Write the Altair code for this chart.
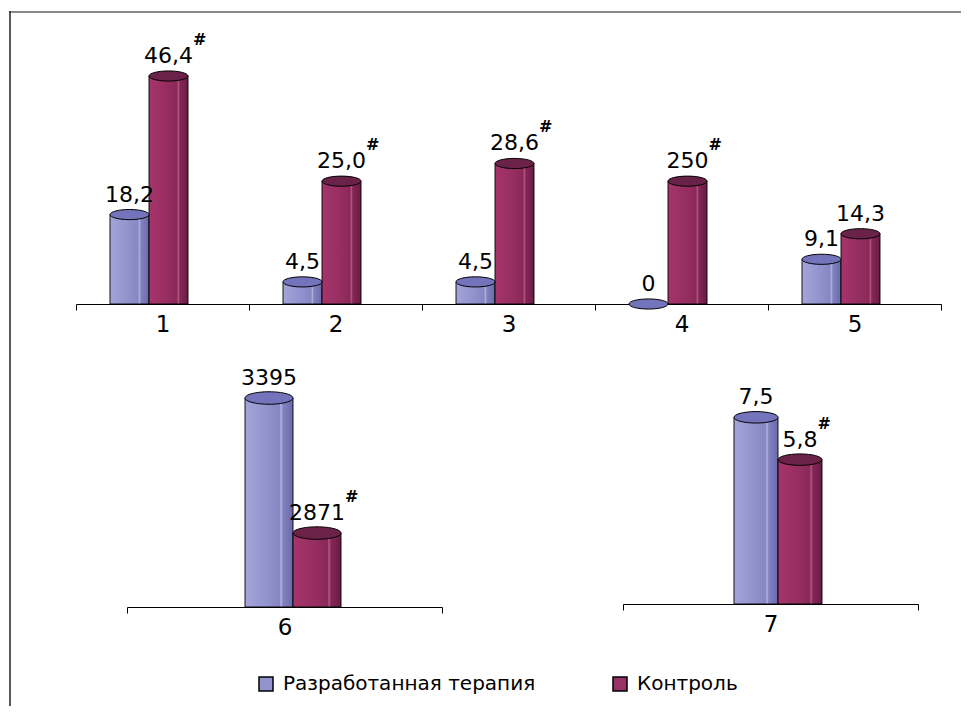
import json
import altair as alt
import pandas as pd

# ---------------- data ----------------
series = ["Разработанная терапия", "Контроль"]

cats_top = ["1", "2", "3", "4", "5"]
top_therapy = [18.2, 4.5, 4.5, 0.0, 9.1]
top_control = [46.4, 25.0, 28.6, 25.0, 14.3]          # bar heights as drawn
top_therapy_lbl = ["18,2", "4,5", "4,5", "0", "9,1"]
top_control_lbl = ["46,4", "25,0", "28,6", "250", "14,3"]
top_therapy_sup = ["", "", "", "", ""]
top_control_sup = ["#", "#", "#", "#", ""]

cats_6 = ["6"]
p6_values = [3395, 2871]
p6_labels = ["3395", "2871"]
p6_sup = ["", "#"]

cats_7 = ["7"]
p7_values = [7.5, 5.8]
p7_labels = ["7,5", "5,8"]
p7_sup = ["", "#"]

# ---------------- styling ----------------
FONT = "DejaVu Sans"
VAL_FS = 22
CAT_FS = 23
SUP_FS = 16
LEG_FS = 20

BLUE_SW = "#9393cc"
RED_SW = "#993366"
CAP_BLUE = "#7474bc"
CAP_RED = "#6b2249"


def grad(stops):
    return alt.LinearGradient(
        gradient="linear", x1=0, x2=1, y1=0, y2=0,
        stops=[alt.GradientStop(offset=o, color=c) for o, c in stops])


GRAD_BLUE = grad([(0, "#a5a5da"), (0.5, "#9090cc"), (0.72, "#8686c4"), (0.75, "#b4b4e2"),
                  (0.79, "#8282c1"), (0.88, "#7878b8"), (1, "#6a6aac")])
GRAD_RED = grad([(0, "#a5356b"), (0.5, "#952d60"), (0.72, "#8b2858"), (0.75, "#b25c88"),
                 (0.79, "#852655"), (0.88, "#7a224e"), (1, "#691c42")])

CAP = "M-1,0 A1,0.26 0 1,1 1,0 A1,0.26 0 1,1 -1,0 Z"

# approx DejaVu Sans advance widths (em)
CW = {",": 0.318}


def text_w(s, fs):
    return sum(CW.get(ch, 0.636) for ch in s) * fs


def make_df(cats, vals_by_series, lbls_by_series, sups_by_series):
    rows = []
    for si, s in enumerate(series):
        for c, v, l, sp in zip(cats, vals_by_series[si], lbls_by_series[si], sups_by_series[si]):
            rows.append({"cat": c, "series": s, "value": v, "label": l, "sup": sp})
    return pd.DataFrame(rows)


def panel(df, cats, width, height, ydomain, off_left, bar_w, extra=None):
    x = alt.X("cat:N", sort=cats,
              scale=alt.Scale(domain=cats, paddingInner=0, paddingOuter=0),
              axis=alt.Axis(title=None, labelAngle=0, tickBand="extent", domainColor="black",
                            tickColor="black", tickSize=6, labelFontSize=CAT_FS,
                            labelColor="black", labelPadding=3, grid=False,
                            domainWidth=1, tickWidth=1, labelFont=FONT))
    xo = alt.XOffset("series:N", sort=series,
                     scale=alt.Scale(domain=series, paddingInner=0, paddingOuter=0,
                                     range=[off_left, off_left + 2 * bar_w]))
    y = alt.Y("value:Q", scale=alt.Scale(domain=ydomain, zero=False, nice=False), axis=None)
    base = alt.Chart(df).encode(x=x, xOffset=xo)
    layers = []
    for s, g in zip(series, [GRAD_BLUE, GRAD_RED]):
        layers.append(base.transform_filter(alt.datum.series == s)
                      .mark_bar(color=g, stroke="black", strokeWidth=1, strokeOpacity=0.9)
                      .encode(y=y, y2=alt.datum(ydomain[0])))
    for s, cc in zip(series, [CAP_BLUE, CAP_RED]):
        layers.append(base.transform_filter(alt.datum.series == s)
                      .mark_point(shape=CAP, size=bar_w * bar_w, filled=True, fill=cc,
                                  stroke="black", strokeWidth=1, opacity=1)
                      .encode(y=y))
    layers.append(base.mark_text(dy=-13, fontSize=VAL_FS, baseline="alphabetic",
                                 align="center", color="black", font=FONT)
                  .encode(y=y, text="label:N"))
    # superscripts, grouped by label width
    sup_rows = df[df["sup"] != ""]
    groups = {}
    for lbl in sup_rows["label"]:
        dx = round(text_w(lbl, VAL_FS) / 2, 1)
        groups.setdefault(dx, []).append(lbl)
    for dx, lbls in groups.items():
        expr = "datum.sup == '#' && indexof(%s, datum.label) >= 0" % json.dumps(lbls)
        layers.append(base.transform_filter(expr)
                      .mark_text(dx=dx, dy=-31, align="left", baseline="alphabetic",
                                 fontSize=SUP_FS, fontWeight="bold", color="black", font=FONT)
                      .encode(y=y, text="sup:N"))
    if extra:
        layers.extend(extra)
    return alt.layer(*layers).properties(width=width, height=height)


one = pd.DataFrame({"a": [0]})
top_line = alt.Chart(one).mark_rule(color="#8a8a8a", strokeWidth=2).encode(
    x=alt.value(-67), x2=alt.value(885), y=alt.value(-19))
left_line = alt.Chart(one).mark_rule(color="#222222", strokeWidth=1.5).encode(
    x=alt.value(-66), y=alt.value(-20), y2=alt.value(675))

# legend (drawn inside the top panel, below everything)
leg_df = pd.DataFrame({"series": series})
LEG_X = [190, 544]
LEG_Y = 653
legend_layers = []
for s, lx, col in zip(series, LEG_X, [BLUE_SW, RED_SW]):
    lb = alt.Chart(leg_df).transform_filter(alt.datum.series == s)
    legend_layers.append(lb.mark_point(shape="square", size=196, filled=True, fill=col,
                                       stroke="black", strokeWidth=1.5, opacity=1)
                         .encode(x=alt.value(lx), y=alt.value(LEG_Y)))
    legend_layers.append(lb.mark_text(align="left", dx=17, baseline="middle",
                                      fontSize=LEG_FS, color="black", font=FONT)
                         .encode(x=alt.value(lx), y=alt.value(LEG_Y), text="series:N"))

df_top = make_df(cats_top, [top_therapy, top_control], [top_therapy_lbl, top_control_lbl],
                 [top_therapy_sup, top_control_sup])
df6 = make_df(cats_6, [[p6_values[0]], [p6_values[1]]], [[p6_labels[0]], [p6_labels[1]]],
              [[p6_sup[0]], [p6_sup[1]]])
df7 = make_df(cats_7, [[p7_values[0]], [p7_values[1]]], [[p7_labels[0]], [p7_labels[1]]],
              [[p7_sup[0]], [p7_sup[1]]])

top = panel(df_top, cats_top, 865, 273, [0, 55.56], 34, 39,
            extra=[top_line, left_line] + legend_layers)
p6 = panel(df6, cats_6, 315, 230, [2584, 3476.5], 118, 48)
p7 = panel(df7, cats_7, 295, 227, [0, 9.12], 111, 44)

spacer = alt.Chart(one).mark_point(opacity=0).encode(
    x=alt.value(0), y=alt.value(0)).properties(width=1, height=1)

inner = alt.hconcat(p6, p7, spacing=181, bounds="flush").resolve_scale(
    x="independent", xOffset="independent", y="independent")
row = alt.hconcat(spacer, inner, spacing=50, bounds="flush").resolve_scale(
    x="independent", xOffset="independent", y="independent")

chart = alt.vconcat(top, row, spacing=73, bounds="flush").resolve_scale(
    x="independent", xOffset="independent", y="independent").properties(
    padding={"left": 0, "top": 2, "right": 0, "bottom": 0}
).configure(font=FONT).configure_view(strokeWidth=0)

chart.save("out.html", embed_options={"renderer": "svg", "actions": False})
